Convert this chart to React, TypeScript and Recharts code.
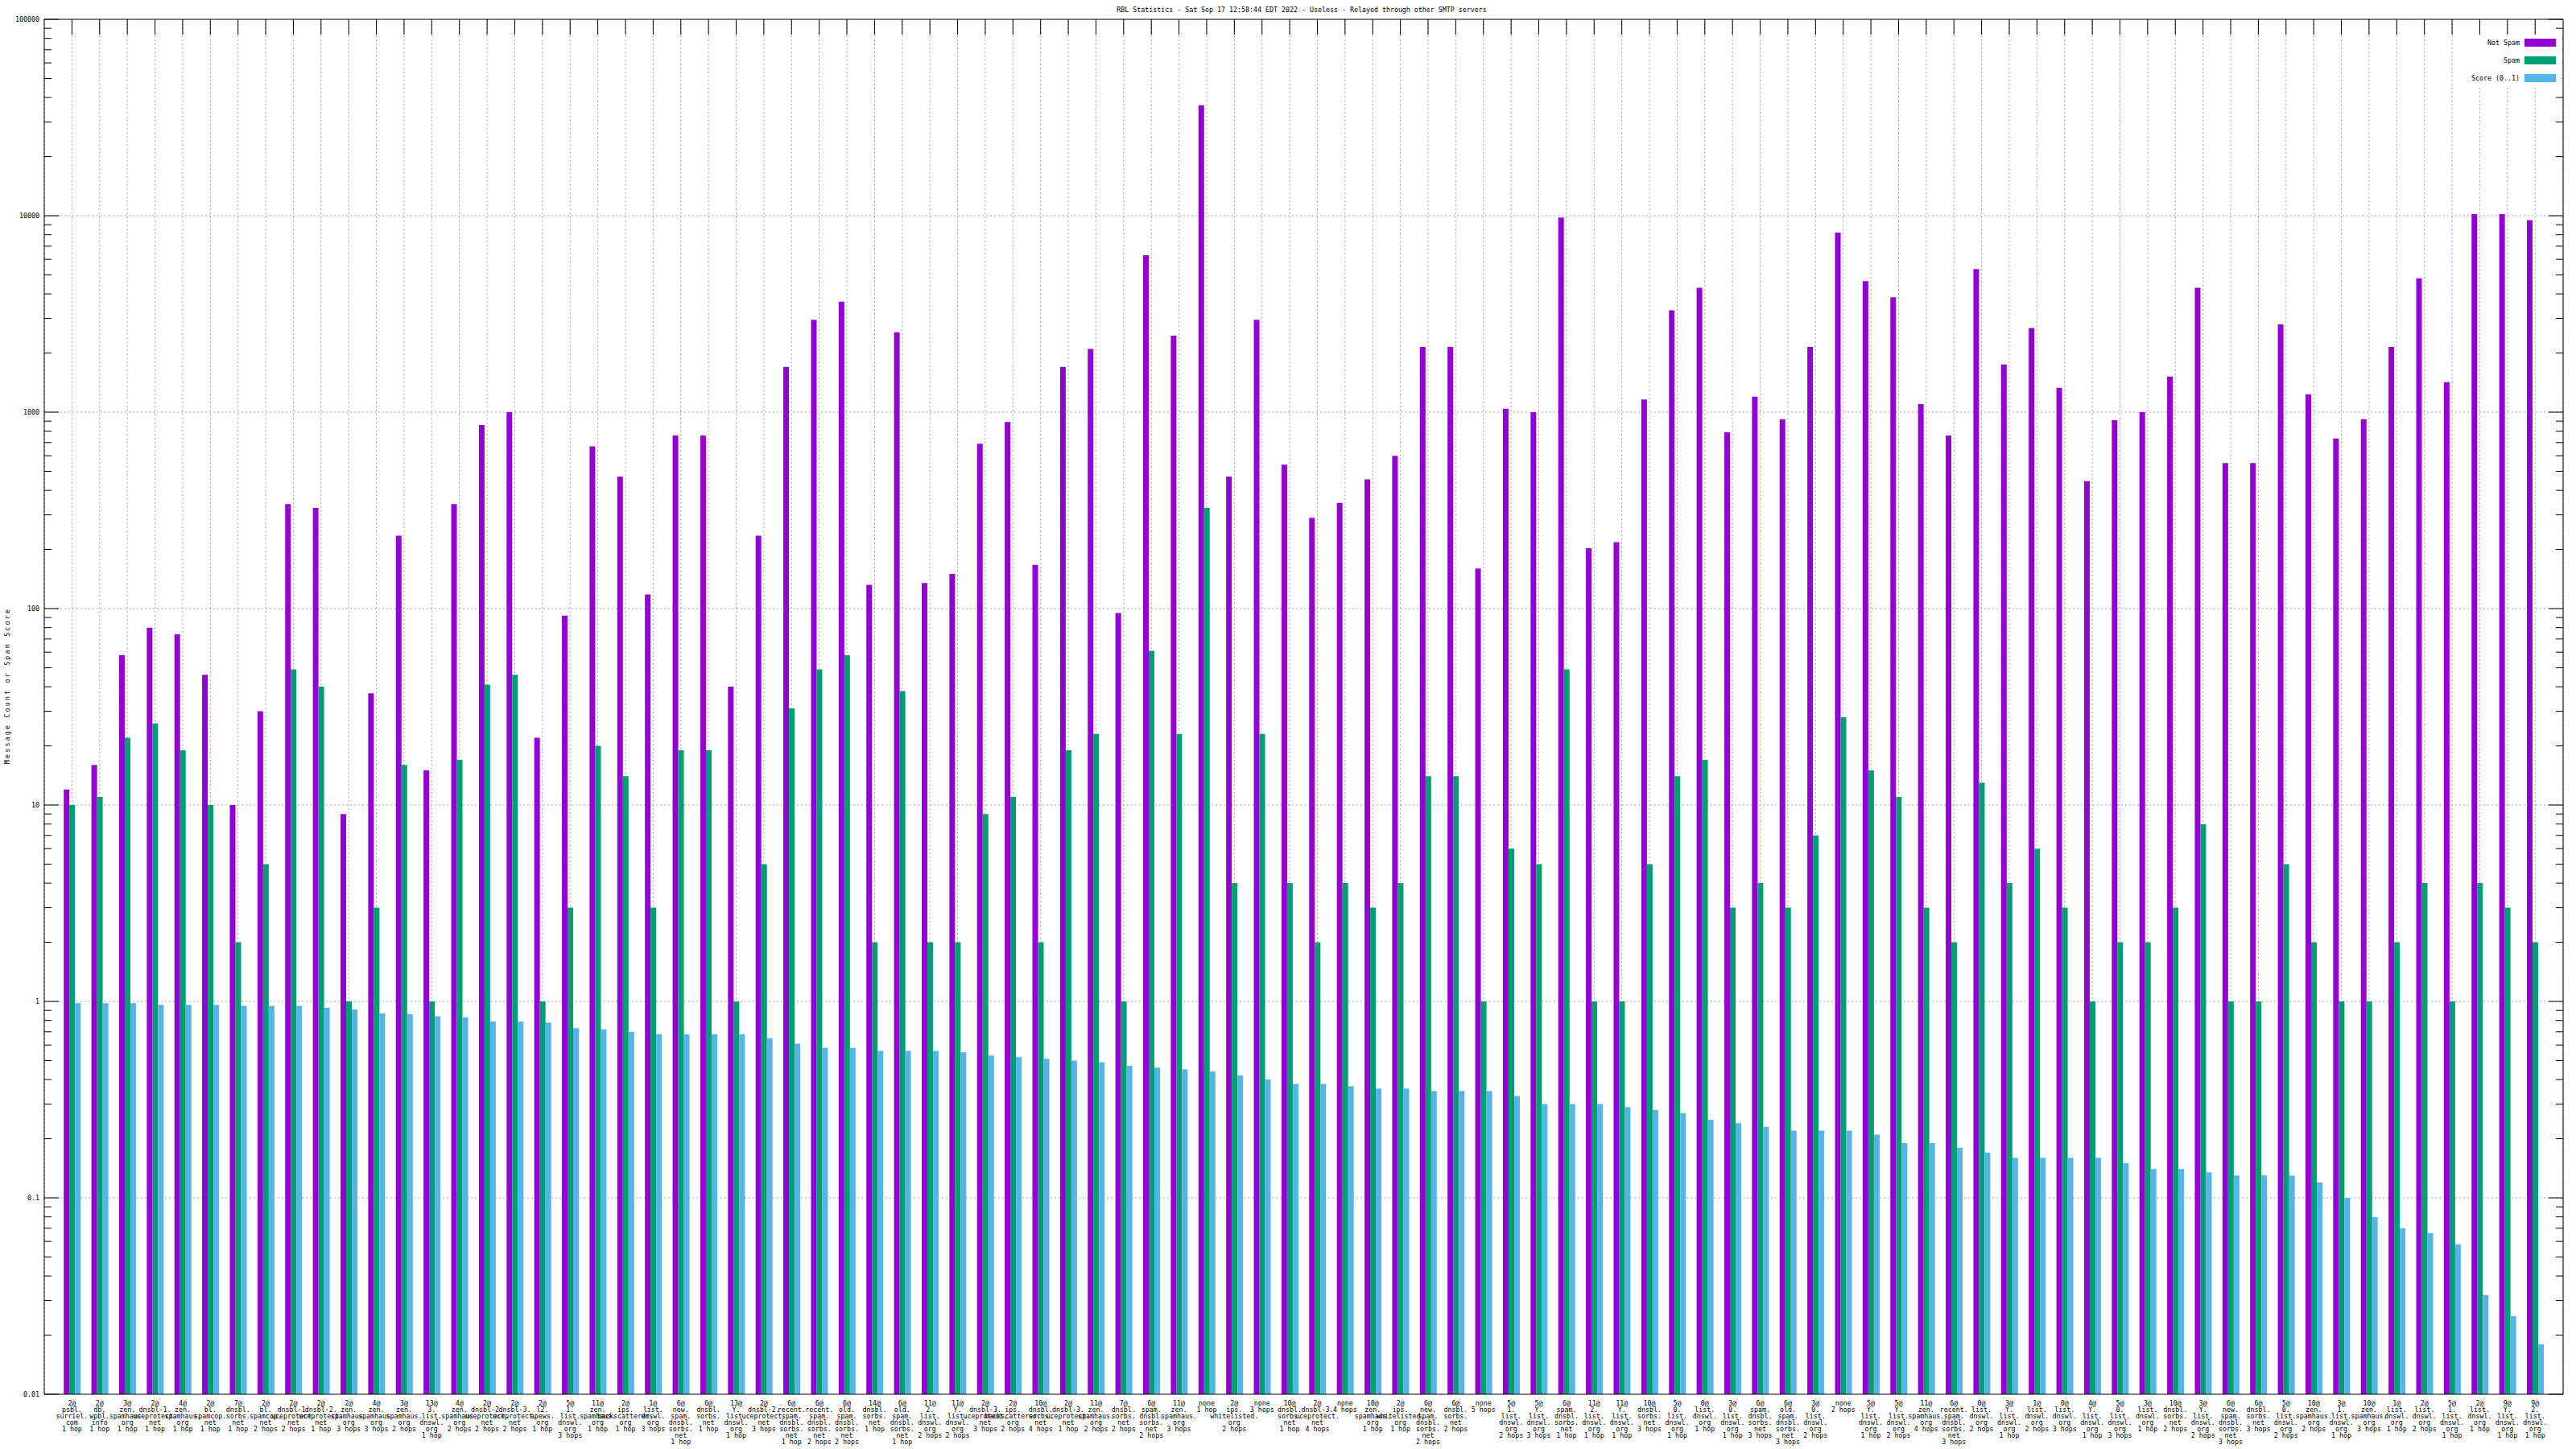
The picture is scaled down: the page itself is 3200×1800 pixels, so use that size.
import React from "react";
import { Bar, BarChart, CartesianGrid, XAxis, YAxis } from "recharts";

const TITLE = "RBL Statistics - Sat Sep 17 12:58:44 EDT 2022 - Useless - Relayed through other SMTP servers";
const Y_LABEL = "Message Count or Spam Score";
const FONT = '"DejaVu Sans Mono", "Liberation Mono", monospace';

// one entry per bar group, lines split on "|"
const categories = [
  "2@|psbl.|surriel.|com|1 hop",
  "2@|db.|wpbl.|info|1 hop",
  "3@|zen.|spamhaus.|org|1 hop",
  "2@|dnsbl-1.|uceprotect.|net|1 hop",
  "4@|zen.|spamhaus.|org|1 hop",
  "2@|bl.|spamcop.|net|1 hop",
  "7@|dnsbl.|sorbs.|net|1 hop",
  "2@|bl.|spamcop.|net|2 hops",
  "2@|dnsbl-1.|uceprotect.|net|2 hops",
  "2@|dnsbl-2.|uceprotect.|net|1 hop",
  "2@|zen.|spamhaus.|org|3 hops",
  "4@|zen.|spamhaus.|org|3 hops",
  "3@|zen.|spamhaus.|org|2 hops",
  "13@|3.|list.|dnswl.|org|1 hop",
  "4@|zen.|spamhaus.|org|2 hops",
  "2@|dnsbl-2.|uceprotect.|net|2 hops",
  "2@|dnsbl-3.|uceprotect.|net|2 hops",
  "2@|l2.|apews.|org|1 hop",
  "5@|1.|list.|dnswl.|org|3 hops",
  "11@|zen.|spamhaus.|org|1 hop",
  "2@|ips.|backscatterer.|org|1 hop",
  "1@|list.|dnswl.|org|3 hops",
  "6@|new.|spam.|dnsbl.|sorbs.|net|1 hop",
  "6@|dnsbl.|sorbs.|net|1 hop",
  "13@|Y.|list.|dnswl.|org|1 hop",
  "2@|dnsbl-2.|uceprotect.|net|3 hops",
  "6@|recent.|spam.|dnsbl.|sorbs.|net|1 hop",
  "6@|recent.|spam.|dnsbl.|sorbs.|net|2 hops",
  "6@|old.|spam.|dnsbl.|sorbs.|net|2 hops",
  "14@|dnsbl.|sorbs.|net|1 hop",
  "6@|old.|spam.|dnsbl.|sorbs.|net|1 hop",
  "11@|2.|list.|dnswl.|org|2 hops",
  "11@|Y.|list.|dnswl.|org|2 hops",
  "2@|dnsbl-3.|uceprotect.|net|3 hops",
  "2@|ips.|backscatterer.|org|2 hops",
  "10@|dnsbl.|sorbs.|net|4 hops",
  "2@|dnsbl-3.|uceprotect.|net|1 hop",
  "11@|zen.|spamhaus.|org|2 hops",
  "7@|dnsbl.|sorbs.|net|2 hops",
  "6@|spam.|dnsbl.|sorbs.|net|2 hops",
  "11@|zen.|spamhaus.|org|3 hops",
  "none|1 hop",
  "2@|ips.|whitelisted.|org|2 hops",
  "none|3 hops",
  "10@|dnsbl.|sorbs.|net|1 hop",
  "2@|dnsbl-3.|uceprotect.|net|4 hops",
  "none|4 hops",
  "10@|zen.|spamhaus.|org|1 hop",
  "2@|ips.|whitelisted.|org|1 hop",
  "6@|new.|spam.|dnsbl.|sorbs.|net|2 hops",
  "6@|dnsbl.|sorbs.|net|2 hops",
  "none|5 hops",
  "5@|1.|list.|dnswl.|org|2 hops",
  "5@|Y.|list.|dnswl.|org|3 hops",
  "6@|spam.|dnsbl.|sorbs.|net|1 hop",
  "11@|2.|list.|dnswl.|org|1 hop",
  "11@|Y.|list.|dnswl.|org|1 hop",
  "10@|dnsbl.|sorbs.|net|3 hops",
  "5@|0.|list.|dnswl.|org|1 hop",
  "0@|list.|dnswl.|org|1 hop",
  "3@|0.|list.|dnswl.|org|1 hop",
  "6@|spam.|dnsbl.|sorbs.|net|3 hops",
  "6@|old.|spam.|dnsbl.|sorbs.|net|3 hops",
  "3@|0.|list.|dnswl.|org|2 hops",
  "none|2 hops",
  "5@|Y.|list.|dnswl.|org|1 hop",
  "5@|Y.|list.|dnswl.|org|2 hops",
  "11@|zen.|spamhaus.|org|4 hops",
  "6@|recent.|spam.|dnsbl.|sorbs.|net|3 hops",
  "0@|list.|dnswl.|org|2 hops",
  "3@|Y.|list.|dnswl.|org|1 hop",
  "1@|list.|dnswl.|org|2 hops",
  "0@|list.|dnswl.|org|3 hops",
  "4@|Y.|list.|dnswl.|org|1 hop",
  "5@|0.|list.|dnswl.|org|3 hops",
  "3@|list.|dnswl.|org|1 hop",
  "10@|dnsbl.|sorbs.|net|2 hops",
  "3@|Y.|list.|dnswl.|org|2 hops",
  "6@|new.|spam.|dnsbl.|sorbs.|net|3 hops",
  "6@|dnsbl.|sorbs.|net|3 hops",
  "5@|0.|list.|dnswl.|org|2 hops",
  "10@|zen.|spamhaus.|org|2 hops",
  "3@|1.|list.|dnswl.|org|1 hop",
  "10@|zen.|spamhaus.|org|3 hops",
  "1@|list.|dnswl.|org|1 hop",
  "2@|list.|dnswl.|org|2 hops",
  "5@|1.|list.|dnswl.|org|1 hop",
  "2@|list.|dnswl.|org|1 hop",
  "9@|Y.|list.|dnswl.|org|1 hop",
  "9@|2.|list.|dnswl.|org|1 hop",
];

const notSpam = [
  12, 16, 58, 80, 74, 46, 10, 30, 340, 325,
  9, 37, 235, 15, 340, 860, 1000, 22, 92, 670,
  470, 118, 760, 760, 40, 235, 1700, 2950, 3650, 132,
  2550, 135, 150, 690, 890, 167, 1700, 2100, 95, 6300,
  2450, 36500, 470, 2950, 540, 290, 345, 455, 600, 2150,
  2150, 160, 1040, 1000, 9800, 203, 218, 1160, 3300, 4300,
  790, 1200, 920, 2150, 8200, 4650, 3850, 1100, 760, 5350,
  1750, 2680, 1330, 445, 910, 1000, 1520, 4300, 550, 550,
  2800, 1230, 735, 920, 2150, 4800, 1420, 10200, 10200, 9500,
];

const spam = [
  10, 11, 22, 26, 19, 10, 2, 5, 49, 40,
  1, 3, 16, 1, 17, 41, 46, 1, 3, 20,
  14, 3, 19, 19, 1, 5, 31, 49, 58, 2,
  38, 2, 2, 9, 11, 2, 19, 23, 1, 61,
  23, 325, 4, 23, 4, 2, 4, 3, 4, 14,
  14, 1, 6, 5, 49, 1, 1, 5, 14, 17,
  3, 4, 3, 7, 28, 15, 11, 3, 2, 13,
  4, 6, 3, 1, 2, 2, 3, 8, 1, 1,
  5, 2, 1, 1, 2, 4, 1, 4, 3, 2,
];

const score = [
  0.98, 0.98, 0.98, 0.96, 0.96, 0.96, 0.95, 0.95, 0.95, 0.93,
  0.91, 0.87, 0.86, 0.84, 0.83, 0.79, 0.79, 0.78, 0.73, 0.72,
  0.7, 0.68, 0.68, 0.68, 0.68, 0.65, 0.61, 0.58, 0.58, 0.56,
  0.56, 0.56, 0.55, 0.53, 0.52, 0.51, 0.5, 0.49, 0.47, 0.46,
  0.45, 0.44, 0.42, 0.4, 0.38, 0.38, 0.37, 0.36, 0.36, 0.35,
  0.35, 0.35, 0.33, 0.3, 0.3, 0.3, 0.29, 0.28, 0.27, 0.25,
  0.24, 0.23, 0.22, 0.22, 0.22, 0.21, 0.19, 0.19, 0.18, 0.17,
  0.16, 0.16, 0.16, 0.16, 0.15, 0.14, 0.14, 0.135, 0.13, 0.13,
  0.13, 0.12, 0.1, 0.08, 0.07, 0.066, 0.058, 0.032, 0.025, 0.018,
];

const decadeTicks = [0.01, 0.1, 1, 10, 100, 1000, 10000, 100000];
const decadeLabels = ["0.01", "0.1", "1", "10", "100", "1000", "10000", "100000"];
const minorSteps = [2, 3, 4, 5, 6, 7, 8, 9];
const allYTicks = [
  ...decadeTicks,
  ...decadeTicks.slice(0, -1).flatMap((d) => minorSteps.map((m) => m * d)),
];

const series = [
  { key: "notSpam", name: "Not Spam", color: "#9400d3" },
  { key: "spam", name: "Spam", color: "#009e73" },
  { key: "score", name: "Score (0..1)", color: "#56b4e9" },
];

const data = categories.map((name, i) => ({
  name,
  notSpam: notSpam[i],
  spam: spam[i],
  score: score[i],
}));

const text = { fontFamily: FONT, fontSize: 8.3, fill: "#000" };

function BottomTick({ x, y, payload }: any) {
  const lines = String(payload.value).split("|");
  return (
    <g>
      {lines.map((line, k) => (
        <text key={k} x={x} y={y + 14 + k * 8} textAnchor="middle" {...text}>
          {line}
        </text>
      ))}
    </g>
  );
}

function TopTick({ x, y }: any) {
  return <line x1={x} x2={x} y1={y} y2={y + 19} stroke="#000" />;
}

function LeftTick({ x, y, payload }: any) {
  const idx = decadeTicks.indexOf(payload.value);
  const major = idx >= 0;
  return (
    <g>
      <line x1={x} x2={x + (major ? 18 : 9)} y1={y} y2={y} stroke="#000" />
      {major ? (
        <text x={x - 6} y={y + 3} textAnchor="end" {...text}>
          {decadeLabels[idx]}
        </text>
      ) : null}
    </g>
  );
}

function RightTick({ x, y, payload }: any) {
  const major = decadeTicks.indexOf(payload.value) >= 0;
  return <line x1={x} x2={x - (major ? 18 : 9)} y1={y} y2={y} stroke="#000" />;
}

export default function App() {
  return (
    <div style={{ position: "absolute", left: 0, top: 0, width: 3200, height: 1800, background: "#fff", fontFamily: FONT }}>
      <BarChart
        width={3200}
        height={1800}
        data={data}
        margin={{ top: 0, right: 0, bottom: 0, left: 0 }}
        barGap={0}
        barSize={7}
      >
        <CartesianGrid
          xAxisId="bottom"
          yAxisId="left"
          stroke="#a0a0a0"
          strokeDasharray="2 3"
          horizontalValues={decadeTicks.slice(1, -1)}
        />
        <XAxis
          xAxisId="bottom"
          dataKey="name"
          height={68}
          interval={0}
          padding={{ left: 17.2, right: 17.6 }}
          tickSize={0}
          tickMargin={0}
          tickLine={false}
          axisLine={{ stroke: "#000" }}
          tick={<BottomTick />}
        />
        <XAxis
          xAxisId="top"
          orientation="top"
          dataKey="name"
          height={24}
          interval={0}
          padding={{ left: 17.2, right: 17.6 }}
          tickSize={0}
          tickMargin={0}
          tickLine={false}
          axisLine={{ stroke: "#000" }}
          tick={<TopTick />}
        />
        <YAxis
          yAxisId="left"
          type="number"
          scale="log"
          domain={[0.01, 100000]}
          allowDataOverflow
          ticks={allYTicks}
          interval={0}
          width={55}
          tickSize={0}
          tickMargin={0}
          tickLine={false}
          axisLine={{ stroke: "#000" }}
          tick={<LeftTick />}
        />
        <YAxis
          yAxisId="right"
          orientation="right"
          type="number"
          scale="log"
          domain={[0.01, 100000]}
          allowDataOverflow
          ticks={allYTicks}
          interval={0}
          width={16}
          tickSize={0}
          tickMargin={0}
          tickLine={false}
          axisLine={{ stroke: "#000" }}
          tick={<RightTick />}
        />
        {series.map((s) => (
          <Bar
            key={s.key}
            dataKey={s.key}
            name={s.name}
            fill={s.color}
            xAxisId="bottom"
            yAxisId="left"
            isAnimationActive={false}
          />
        ))}
      </BarChart>

      <div
        style={{
          position: "absolute",
          left: 1617,
          top: 7,
          transform: "translateX(-50%)",
          whiteSpace: "nowrap",
          fontSize: 8.3,
          lineHeight: "10px",
        }}
      >
        {TITLE}
      </div>

      <div
        style={{
          position: "absolute",
          left: 9,
          top: 852,
          transform: "translate(-50%, -50%) rotate(-90deg)",
          whiteSpace: "nowrap",
          fontSize: 8.3,
          letterSpacing: 2.2,
          lineHeight: "10px",
        }}
      >
        {Y_LABEL}
      </div>

      <div
        style={{
          position: "absolute",
          left: 3062,
          top: 44,
          width: 121,
          height: 63,
          background: "#fff",
        }}
      >
        {series.map((s, i) => (
          <div key={s.key} style={{ position: "absolute", left: 0, top: 4 + i * 22, width: 113, height: 10 }}>
            <span
              style={{
                position: "absolute",
                right: 45,
                top: 0,
                fontSize: 8.3,
                lineHeight: "10px",
                whiteSpace: "nowrap",
              }}
            >
              {s.name}
            </span>
            <span
              style={{ position: "absolute", left: 74, top: 0, width: 39, height: 10, background: s.color }}
            />
          </div>
        ))}
      </div>
    </div>
  );
}
